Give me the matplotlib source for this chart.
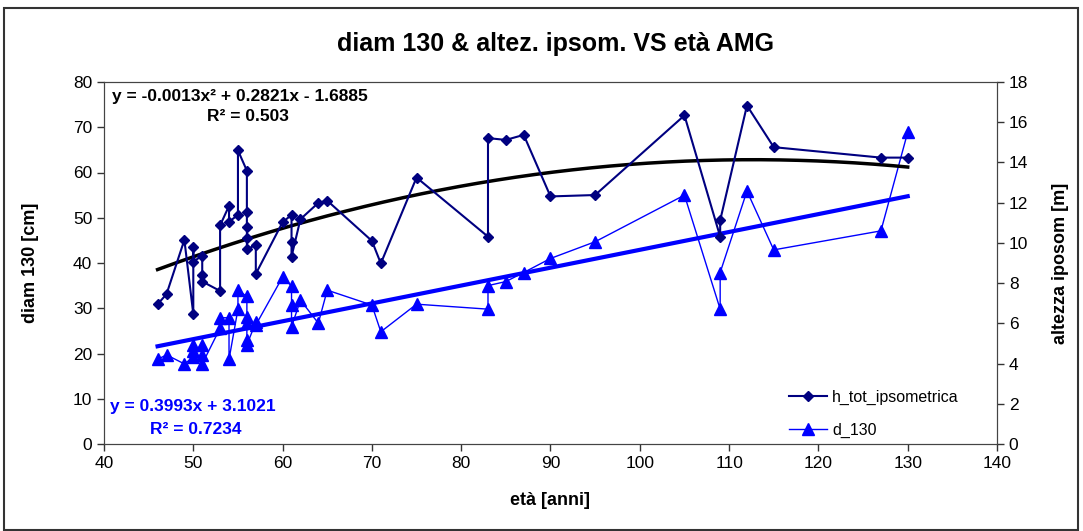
import numpy as np
import matplotlib.pyplot as plt
from matplotlib.patches import Rectangle

plt.rcParams['font.family'] = ['Liberation Sans', 'DejaVu Sans']

# età [anni] di ogni pianta
eta = [46, 47, 49, 50, 50, 50, 51, 51, 51, 53, 53, 54, 54, 55, 55,
       56, 56, 56, 56, 56, 57, 57, 60, 61, 61, 61, 62, 64, 65, 70,
       71, 75, 83, 83, 85, 87, 90, 95, 105, 109, 109, 112, 115, 127, 130]

# altezza ipsometrica [m]
h_tot = [6.95, 7.45, 10.15, 6.46, 9.81, 9.07, 9.36, 8.42, 8.08, 7.61, 10.87,
         11.84, 11.05, 11.39, 14.60, 13.59, 11.54, 10.78, 10.24, 9.68, 9.90,
         8.46, 11.03, 11.39, 10.04, 9.32, 11.18, 11.99, 12.10, 10.10, 8.98,
         13.25, 10.31, 15.21, 15.12, 15.37, 12.31, 12.38, 16.34, 10.31, 11.12,
         16.83, 14.76, 14.24, 14.24]

# diametro a 130 cm [cm]
d_130 = [18.7, 19.7, 17.7, 19.2, 21.9, 20.5, 21.9, 19.7, 17.7, 25.6, 27.9,
         27.9, 18.7, 29.8, 34.0, 32.6, 28.0, 26.7, 23.0, 21.9, 26.9, 26.3,
         36.9, 34.9, 30.7, 25.9, 31.8, 26.7, 34.0, 30.7, 24.8, 30.9, 29.8,
         35.0, 35.9, 37.9, 41.0, 44.7, 55.0, 29.8, 37.9, 55.9, 42.9, 47.1, 68.9]

eta = np.array(eta)
fig = plt.figure(figsize=(10.83, 5.31), dpi=100)
ax = fig.add_axes([104/1083, 1-444/531, (997-104)/1083, (444-82)/531])
ax2 = ax.twinx()

# cornice esterna
fig.patches.append(Rectangle((4/1083, 0.002), 1074/1083, 1-8/531-0.002,
                             transform=fig.transFigure, fill=False,
                             edgecolor='#333333', linewidth=1.5))

# linee di tendenza (polinomiale 2° grado per h, lineare per d)
xt = np.linspace(eta.min(), eta.max(), 200)
fit_h = np.polyfit(eta, h_tot, 2)
fit_d = np.polyfit(eta, d_130, 1)

ax.plot(xt, np.polyval(fit_d, xt), color='#0000ff', linewidth=3, zorder=2)
l2, = ax.plot(eta, d_130, color='#0000ff', linewidth=1, marker='^',
              markersize=8, zorder=3, label='d_130')
ax2.plot(xt, np.polyval(fit_h, xt), color='black', linewidth=2.5, zorder=2)
l1, = ax2.plot(eta, h_tot, color='#000080', linewidth=1.5, marker='D',
               markersize=5.5, zorder=3, label='h_tot_ipsometrica')

ax.set_xlim(40, 140)
ax.set_ylim(0, 80)
ax2.set_ylim(0, 18)
ax.set_xticks(range(40, 141, 10))
ax.set_yticks(range(0, 81, 10))
ax2.set_yticks(range(0, 19, 2))
for a in (ax, ax2):
    a.tick_params(labelsize=12.5, length=5, width=1, color='#333333')
    for s in a.spines.values():
        s.set_color('#444444')

ax.set_xlabel('età [anni]', fontsize=13, fontweight='bold', labelpad=15)
ax.set_ylabel('diam 130 [cm]', fontsize=13, fontweight='bold', labelpad=24)
ax2.set_ylabel('altezza iposom [m]', fontsize=13, fontweight='bold', labelpad=17)
fig.text(0.513, 1-44/531, 'diam 130 & altez. ipsom. VS età AMG', ha='center',
         va='center', fontsize=18, fontweight='bold')

ax.text(0.009, 0.96, 'y = -0.0013x² + 0.2821x - 1.6885', transform=ax.transAxes,
        fontsize=12.5, fontweight='bold', va='center')
ax.text(0.115, 0.905, 'R² = 0.503', transform=ax.transAxes,
        fontsize=12.5, fontweight='bold', va='center')
ax.text(0.007, 0.103, 'y = 0.3993x + 3.1021', transform=ax.transAxes,
        fontsize=12.5, fontweight='bold', va='center', color='#0000ff')
ax.text(0.052, 0.04, 'R² = 0.7234', transform=ax.transAxes,
        fontsize=12.5, fontweight='bold', va='center', color='#0000ff')

ax2.legend(handles=[l1, l2], loc='lower right', bbox_to_anchor=(0.973, -0.022),
           frameon=False, fontsize=11.5, handlelength=2.4, handletextpad=0.3,
           labelspacing=1.1)

fig.savefig('out.png', dpi=100)
